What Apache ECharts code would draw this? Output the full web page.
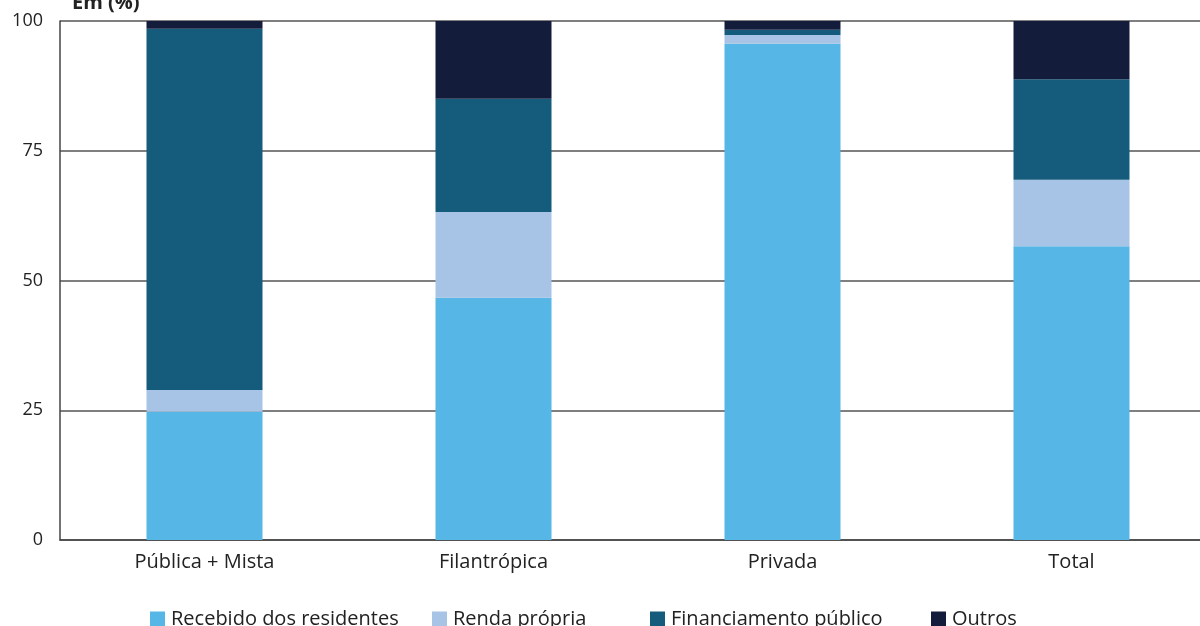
<!DOCTYPE html>
<html>
<head>
<meta charset="utf-8">
<script src="https://cdn.jsdelivr.net/npm/echarts@6/dist/echarts.min.js"></script>
<style>
  html, body { margin: 0; padding: 0; background: #fff; }
  #chart { width: 1200px; height: 626px; }
</style>
</head>
<body>
<div id="chart"></div>
<script>
// Categories of institutions
const categories = ['Pública + Mista', 'Filantrópica', 'Privada', 'Total'];

// Share of funding by source (%)
const recebidoResidentes = [24.7, 46.7, 95.6, 56.6];
const rendaPropria       = [4.2, 16.5, 1.7, 12.8];
const financiamentoPub   = [69.6, 21.8, 1.0, 19.4];
const outros             = [1.5, 15.0, 1.7, 11.2];

const seriesNames = ['Recebido dos residentes', 'Renda própria', 'Financiamento público', 'Outros'];
const yTicks = [0, 25, 50, 75, 100];

const colors = ['#56b6e6', '#a7c3e5', '#155c7c', '#141c3c'];
const font = '"Open Sans", "Noto Sans", sans-serif';

const chart = echarts.init(document.getElementById('chart'), null, { renderer: 'canvas' });

const dataSets = [recebidoResidentes, rendaPropria, financiamentoPub, outros];
const legendLefts = [145, 427, 645, 926];

chart.setOption({
  animation: false,
  color: colors,
  title: {
    text: 'Em (%)',
    left: 67,
    top: -12,
    textStyle: { fontFamily: font, fontSize: 20, fontWeight: 'bold', color: '#222' }
  },
  legend: seriesNames.map((name, i) => ({
    data: [name],
    left: legendLefts[i],
    top: 604,
    itemWidth: 15,
    itemHeight: 15,
    icon: 'rect',
    textStyle: { fontFamily: font, fontSize: 20, color: '#222', padding: [0, 0, 0, 1] }
  })),
  // the plot runs slightly past the right edge of the canvas
  grid: { left: 60, width: 1156, top: 21, bottom: 86, containLabel: false, outerBoundsMode: 'none' },
  xAxis: {
    type: 'category',
    data: categories,
    axisLine: { show: true, lineStyle: { color: '#444', width: 1.5 } },
    axisTick: { show: false },
    axisLabel: { fontFamily: font, fontSize: 20, color: '#222', margin: 12 }
  },
  yAxis: {
    type: 'value',
    min: yTicks[0],
    max: yTicks[yTicks.length - 1],
    interval: 25,
    axisLine: { show: true, lineStyle: { color: '#444', width: 1.5 } },
    axisTick: { show: false },
    axisLabel: { fontFamily: font, fontSize: 18, color: '#222', margin: 17 },
    splitLine: { show: true, lineStyle: { color: '#555', width: 1.5 } }
  },
  series: dataSets.map((d, i) => ({
    name: seriesNames[i],
    type: 'bar',
    stack: 'total',
    barWidth: 116,
    data: d,
    itemStyle: { color: colors[i] }
  }))
});
</script>
</body>
</html>
